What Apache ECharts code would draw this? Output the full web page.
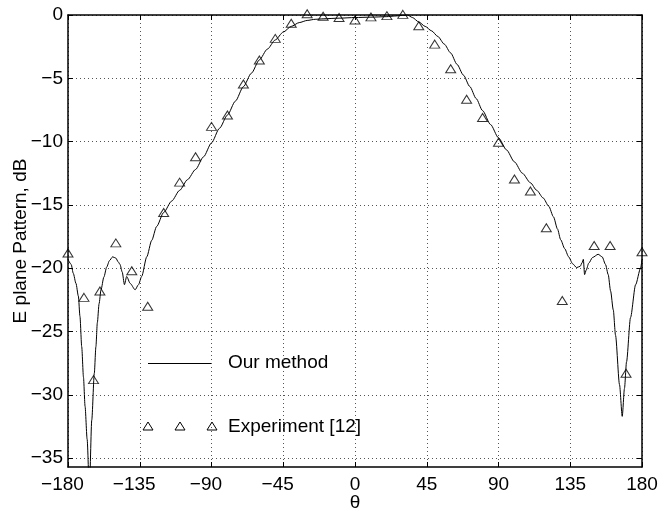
<!DOCTYPE html>
<html>
<head>
<meta charset="utf-8">
<script src="https://cdn.jsdelivr.net/npm/echarts@6/dist/echarts.min.js"></script>
<style>
html,body{margin:0;padding:0;background:#fff;}
#chart{width:658px;height:509px;}
</style>
</head>
<body>
<div id="chart"></div>
<script>
// ---- data ----
const xTicks = [-180, -135, -90, -45, 0, 45, 90, 135, 180];
const yTicks = [0, -5, -10, -15, -20, -25, -30, -35];

// "Our method" curve
const lineTheta = [-180, -178, -176.7, -175, -173.5, -172.5, -171.4, -170.3, -169.3, -168, -166.6, -165.1, -163.5, -162.5, -161.6, -160.5, -159.3, -157.5, -155.7, -154, -152, -150, -148.5, -147.4, -146, -144.6, -143.2, -141, -137.9, -135.8, -133.8, -130.6, -127.5, -124.4, -120, -115, -110, -105, -100, -95, -90, -85, -80, -75, -70, -65, -60, -55, -50, -45, -40, -35, -30, -25, -20, -10, 0, 10, 20, 25, 30, 33, 36, 40, 44, 48, 52, 56, 60, 64, 68, 72, 76, 80, 85, 90, 95, 100, 105, 110, 114, 118, 121.5, 124.5, 127, 129, 131.5, 134, 136.5, 139, 141.2, 142.5, 143.2, 144, 145, 146.6, 149, 152.5, 155, 157.1, 158.8, 160.3, 162, 163.4, 165.9, 167.6, 169, 170.3, 172.8, 176, 179.1, 180];
const lineDb = [-19.3, -19.7, -20.4, -21.2, -22.2, -23.8, -26.2, -28.6, -30.9, -33.5, -37.5, -32.0, -28.3, -26.2, -24.3, -22.8, -21.7, -20.7, -19.9, -19.4, -19.1, -19.2, -19.5, -19.7, -20.3, -21.3, -20.65, -21.2, -21.7, -21.3, -20.65, -19.1, -17.8, -16.7, -15.6, -14.7, -13.85, -13.0, -12.2, -11.2, -10.1, -8.95, -7.9, -6.8, -5.66, -4.6, -3.55, -2.7, -1.97, -1.35, -0.9, -0.6, -0.43, -0.34, -0.3, -0.25, -0.2, -0.17, -0.13, -0.08, -0.03, 0, -0.2, -0.55, -0.9, -1.25, -1.7, -2.3, -3.0, -3.9, -4.75, -5.65, -6.6, -7.55, -8.65, -9.7, -10.65, -11.6, -12.5, -13.25, -13.85, -14.45, -15.1, -15.95, -16.9, -17.75, -18.45, -19.1, -19.65, -19.95, -19.85, -19.55, -19.3, -20.5, -20.15, -19.6, -19.15, -18.9, -19.1, -19.7, -20.5, -21.8, -23.3, -25.3, -29.2, -31.7, -29.5, -27.4, -23.9, -21.3, -20.0, -19.3];

// "Experiment [12]" points
const expTheta = [-180, -170, -164, -160, -150, -140, -130, -120, -110, -100, -90, -80, -70, -60, -50, -40, -30, -20, -10, 0, 10, 20, 30, 40, 50, 60, 70, 80, 90, 100, 110, 120, 130, 150, 160, 170, 180];
const expDb = [-18.8, -22.3, -28.8, -21.8, -18.0, -20.2, -23.0, -15.6, -13.2, -11.2, -8.8, -7.9, -5.45, -3.55, -1.85, -0.65, 0.1, -0.1, -0.2, -0.4, -0.15, -0.05, 0.05, -0.85, -2.3, -4.25, -6.65, -8.1, -10.05, -12.95, -13.9, -16.8, -22.55, -18.2, -18.2, -28.3, -18.7];

const yLabel = 'E plane Pattern, dB';
const xLabel = 'θ';
const legendNames = ['Our method', 'Experiment [12]'];

// ---- chart ----
const FONT = '"Liberation Sans", Arial, Helvetica, sans-serif';
const FS = 19;
const chart = echarts.init(document.getElementById('chart'), null, {renderer: 'canvas'});

function minusFmt(v) {
  if (v < 0) return '{a|\u2212' + Math.abs(v) + '}{h|\u2212}';
  return '{a|' + v + '}';
}
const richX = {
  a: {fontSize: FS, fontFamily: FONT, color: '#000'},
  h: {fontSize: FS, fontFamily: FONT, color: 'rgba(0,0,0,0)'}
};

const gridLine = {show: true, lineStyle: {color: '#555', width: 1, type: [1, 3]}};
const axisLineStyle = {show: true, onZero: false, lineStyle: {color: '#000', width: 1.5}};
const tickStyle = {show: true, inside: true, length: 5, lineStyle: {color: '#000', width: 1}};

const lineData = lineTheta.map((t, i) => [t, lineDb[i]]);
const expData = expTheta.map((t, i) => [t, expDb[i]]);

const option = {
  animation: false,
  backgroundColor: '#fff',
  grid: {left: 68, right: 16, top: 15, bottom: 42, containLabel: false, outerBoundsMode: 'none'},
  xAxis: [
    {
      type: 'value', position: 'bottom', min: -180, max: 180, interval: 45,
      name: xLabel, nameLocation: 'middle', nameGap: 26, nameMoveOverlap: false,
      nameTextStyle: {fontSize: FS, fontFamily: FONT, color: '#000', verticalAlign: 'top'},
      axisLine: axisLineStyle, axisTick: tickStyle,
      axisLabel: {margin: 8, formatter: minusFmt, rich: richX, fontSize: FS, fontFamily: FONT, color: '#000'},
      splitLine: gridLine
    },
    {
      type: 'value', position: 'top', min: -180, max: 180, interval: 45,
      axisLine: axisLineStyle, axisTick: tickStyle,
      axisLabel: {show: false}, splitLine: {show: false}
    }
  ],
  yAxis: [
    {
      type: 'value', position: 'left', min: -35.7, max: 0,
      name: yLabel, nameLocation: 'middle', nameGap: 38, nameMoveOverlap: false,
      nameTextStyle: {fontSize: FS, fontFamily: FONT, color: '#000'},
      axisLine: axisLineStyle,
      axisTick: Object.assign({customValues: yTicks}, tickStyle),
      axisLabel: {customValues: yTicks, margin: 5, fontSize: FS, fontFamily: FONT, color: '#000',
        formatter: v => (v < 0 ? '\u2212' + Math.abs(v) : String(v))},
      splitLine: gridLine
    },
    {
      type: 'value', position: 'right', min: -35.7, max: 0,
      axisLine: axisLineStyle,
      axisTick: Object.assign({customValues: yTicks}, tickStyle),
      axisLabel: {show: false}, splitLine: {show: false}
    }
  ],
  series: [
    {
      name: legendNames[0], type: 'line', data: lineData,
      xAxisIndex: 0, yAxisIndex: 0,
      showSymbol: false, smooth: 0.25, smoothMonotone: 'x', clip: true,
      lineStyle: {color: '#000', width: 1}, z: 3
    },
    {
      name: legendNames[1], type: 'scatter', data: expData,
      xAxisIndex: 0, yAxisIndex: 0,
      symbol: 'triangle', symbolSize: [10, 8], clip: false,
      itemStyle: {color: 'rgba(0,0,0,0)', borderColor: '#000', borderWidth: 1}, z: 4
    }
  ],
  graphic: [
    {type: 'line', shape: {x1: 148, y1: 363.5, x2: 212, y2: 363.5}, style: {stroke: '#000', lineWidth: 1}},
    {type: 'text', left: 228, top: 353, style: {text: legendNames[0], fontSize: FS, fontFamily: FONT, fill: '#000'}},
    {type: 'polygon', shape: {points: [[148, 422], [143, 430], [153, 430]]}, style: {fill: 'none', stroke: '#000', lineWidth: 1}},
    {type: 'polygon', shape: {points: [[180, 422], [175, 430], [185, 430]]}, style: {fill: 'none', stroke: '#000', lineWidth: 1}},
    {type: 'polygon', shape: {points: [[212, 422], [207, 430], [217, 430]]}, style: {fill: 'none', stroke: '#000', lineWidth: 1}},
    {type: 'text', left: 228, top: 417, style: {text: legendNames[1], fontSize: FS, fontFamily: FONT, fill: '#000'}}
  ]
};
chart.setOption(option);
</script>
</body>
</html>
